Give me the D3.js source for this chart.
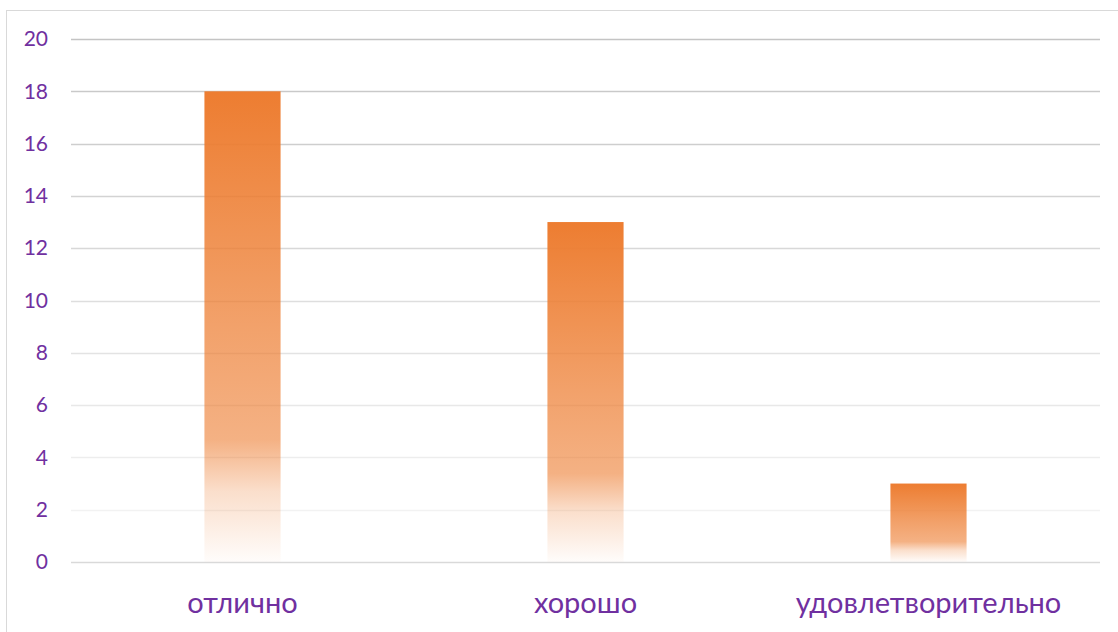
<!DOCTYPE html>
<html><head><meta charset="utf-8">
<script src="https://cdn.jsdelivr.net/npm/d3@7"></script>
<style>body{margin:0;background:#fff}svg{display:block}</style>
</head><body>
<svg id="c" width="1118" height="632"></svg>
<script>
const categories = ["отлично", "хорошо", "удовлетворительно"];
const values = [18, 13, 3];
const yTicks = [0, 2, 4, 6, 8, 10, 12, 14, 16, 18, 20];

const svg = d3.select("#c");
const W = 1118, H = 632;
const m = {left: 71, right: 18, top: 39, bottom: 70};
const x0 = m.left, x1 = W - m.right, y0 = H - m.bottom, y1 = m.top;

svg.append("rect").attr("x", 6.5).attr("y", 10.5).attr("width", 1130).attr("height", 640)
  .attr("fill", "#fff").attr("stroke", "#d9d9d9").attr("stroke-width", 1);

const x = d3.scaleBand().domain(categories).range([x0, x1]).paddingInner(0.778).paddingOuter(0.389);
const y = d3.scaleLinear().domain([0, 20]).range([y0, y1]);

const defs = svg.append("defs");
const g = defs.append("linearGradient").attr("id", "bg").attr("x1", 0).attr("y1", 0).attr("x2", 0).attr("y2", 1);
[[0, 1], [0.5, 0.72], [0.74, 0.6], [0.85, 0.25], [1, 0.02]].forEach(([o, a]) =>
  g.append("stop").attr("offset", o).attr("stop-color", "#ED7D31").attr("stop-opacity", a));

const gridColor = d3.scaleLinear().domain([2, 20]).range(["#f2f2f2", "#c4c4c4"]);
const grid = svg.append("g");
yTicks.forEach(t => {
  grid.append("line").attr("x1", x0).attr("x2", x1).attr("y1", Math.round(y(t)) + 0.5).attr("y2", Math.round(y(t)) + 0.5)
    .attr("stroke", t === 0 ? "#d9d9d9" : gridColor(t)).attr("stroke-width", 1.5);
});

const yAxis = d3.axisLeft(y).tickValues(yTicks).tickSize(0).tickPadding(0);
const ya = svg.append("g").attr("transform", `translate(${48},0)`).call(yAxis);
ya.select(".domain").remove();
ya.selectAll("text").attr("fill", "#7030A0").style("font-family", "Lato, 'Open Sans', sans-serif").style("font-size", "21px");

svg.append("g").selectAll("rect").data(values).join("rect")
  .attr("x", (d, i) => x(categories[i]))
  .attr("width", x.bandwidth())
  .attr("y", d => y(d))
  .attr("height", d => y(0) - y(d))
  .attr("fill", "url(#bg)");

const xAxis = d3.axisBottom(x).tickSize(0).tickPadding(0);
const xa = svg.append("g").attr("transform", `translate(0,${y0 + 30})`).call(xAxis);
xa.select(".domain").remove();
xa.selectAll("text").attr("fill", "#7030A0").style("font-family", "Lato, 'Open Sans', sans-serif").style("font-size", "29px");
</script>
</body></html>
